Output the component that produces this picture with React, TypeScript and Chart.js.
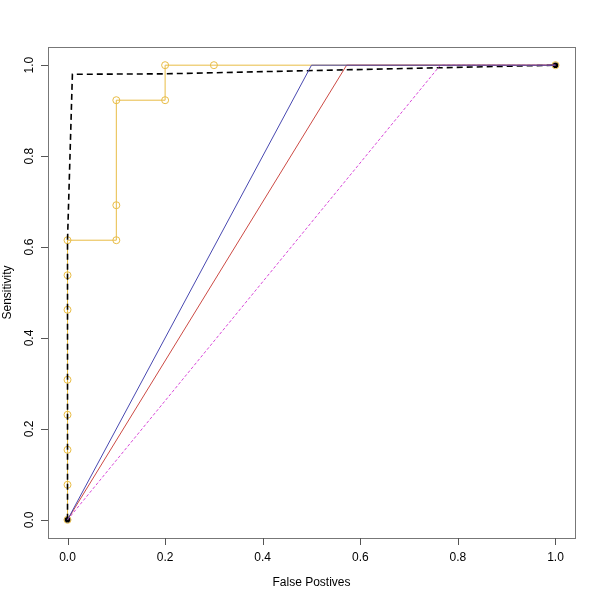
import React, { useEffect, useRef } from "react";
import { Chart, registerables } from "chart.js";

Chart.register(...registerables);

const xTicks = [0, 0.2, 0.4, 0.6, 0.8, 1.0];
const yTicks = [0, 0.2, 0.4, 0.6, 0.8, 1.0];
const xTickLabels = ["0.0", "0.2", "0.4", "0.6", "0.8", "1.0"];
const yTickLabels = ["0.0", "0.2", "0.4", "0.6", "0.8", "1.0"];

const stepFpr = [0, 0, 0, 0, 0, 0, 0, 0, 0.1, 0.1, 0.1, 0.2, 0.2, 0.3, 1];
const stepTpr = [0, 0.077, 0.154, 0.231, 0.308, 0.462, 0.538, 0.615, 0.615, 0.692, 0.923, 0.923, 1, 1, 1];

const dashFpr = [0, 0, 0.01, 0.2, 1];
const dashTpr = [0, 0.615, 0.98, 0.981, 1];

const blueFpr = [0, 0.5, 1];
const blueTpr = [0, 1, 1];
const redFpr = [0, 0.572, 1];
const redTpr = [0, 1, 1];
const magFpr = [0, 0.764, 1];
const magTpr = [0, 1, 1];

const pts = (xs: number[], ys: number[]) => xs.map((x, i) => ({ x, y: ys[i] }));

const FONT = "Liberation Sans, Arial, Helvetica, sans-serif";

const rPlot = {
  id: "rPlot",
  afterDraw(chart: any) {
    const { ctx, chartArea } = chart;
    const xs = chart.scales.x;
    const ys = chart.scales.y;
    ctx.save();
    ctx.strokeStyle = "#777";
    ctx.lineWidth = 1;
    ctx.strokeRect(chartArea.left + 0.5, chartArea.top + 0.5, chartArea.right - chartArea.left, chartArea.bottom - chartArea.top);
    ctx.strokeStyle = "#555";
    ctx.beginPath();
    xTicks.forEach((t) => {
      const px = Math.round(xs.getPixelForValue(t)) + 0.5;
      ctx.moveTo(px, chartArea.bottom);
      ctx.lineTo(px, chartArea.bottom + 7);
    });
    yTicks.forEach((t) => {
      const py = Math.round(ys.getPixelForValue(t)) + 0.5;
      ctx.moveTo(chartArea.left, py);
      ctx.lineTo(chartArea.left - 7, py);
    });
    ctx.stroke();
    ctx.fillStyle = "#000";
    ctx.font = `12px ${FONT}`;
    ctx.textAlign = "center";
    ctx.textBaseline = "middle";
    xTicks.forEach((t, i) => {
      ctx.fillText(xTickLabels[i], xs.getPixelForValue(t), chartArea.bottom + 20);
    });
    yTicks.forEach((t, i) => {
      ctx.save();
      ctx.translate(chartArea.left - 18, ys.getPixelForValue(t));
      ctx.rotate(-Math.PI / 2);
      ctx.fillText(yTickLabels[i], 0, 0);
      ctx.restore();
    });
    ctx.fillText("False Postives", (chartArea.left + chartArea.right) / 2, chartArea.bottom + 45);
    ctx.save();
    ctx.translate(chartArea.left - 40, (chartArea.top + chartArea.bottom) / 2);
    ctx.rotate(-Math.PI / 2);
    ctx.fillText("Sensitivity", 0, 0);
    ctx.restore();
    ctx.restore();
  },
};

export default function App() {
  const ref = useRef<HTMLCanvasElement>(null);
  useEffect(() => {
    if (!ref.current) return;
    const chart = new Chart(ref.current, {
      type: "scatter",
      data: {
        datasets: [
          {
            data: pts(stepFpr, stepTpr),
            showLine: true,
            borderColor: "#E8BC45",
            borderWidth: 1,
            pointRadius: 3.5,
            pointBorderColor: "#E8BC45",
            pointBackgroundColor: "rgba(0,0,0,0)",
            pointBorderWidth: 1,
            order: 3,
          },
          {
            data: pts(dashFpr, dashTpr),
            showLine: true,
            borderColor: "#000",
            borderWidth: 1.6,
            borderDash: [6, 4],
            pointRadius: [2, 0, 0, 0, 2],
            pointBackgroundColor: "#000",
            pointBorderColor: "#000",
            order: 2,
          },
          {
            data: pts(blueFpr, blueTpr),
            showLine: true,
            borderColor: "#4848B0",
            borderWidth: 1,
            pointRadius: 0,
            order: 1,
          },
          {
            data: pts(redFpr, redTpr),
            showLine: true,
            borderColor: "#CC4A44",
            borderWidth: 1,
            pointRadius: 0,
            order: 1,
          },
          {
            data: pts(magFpr, magTpr),
            showLine: true,
            borderColor: "#D848D8",
            borderWidth: 1,
            borderDash: [3, 2],
            pointRadius: 0,
            order: 1,
          },
        ],
      },
      options: {
        animation: false,
        responsive: false,
        layout: { padding: { top: 47, right: 25, left: 0, bottom: 0 } },
        plugins: { legend: { display: false }, tooltip: { enabled: false } },
        scales: {
          x: {
            type: "linear",
            min: -0.04,
            max: 1.04,
            grid: { display: false },
            border: { display: false },
            ticks: { display: false },
            afterFit: (s: any) => {
              s.height = 62;
            },
          },
          y: {
            type: "linear",
            min: -0.04,
            max: 1.04,
            grid: { display: false },
            border: { display: false },
            ticks: { display: false },
            afterFit: (s: any) => {
              s.width = 48;
            },
          },
        },
      },
      plugins: [rPlot],
    });
    return () => chart.destroy();
  }, []);
  return (
    <div style={{ position: "fixed", left: 0, top: 0, width: 600, height: 600, background: "#fff" }}>
      <canvas ref={ref} width={600} height={600} style={{ width: 600, height: 600 }} />
    </div>
  );
}
